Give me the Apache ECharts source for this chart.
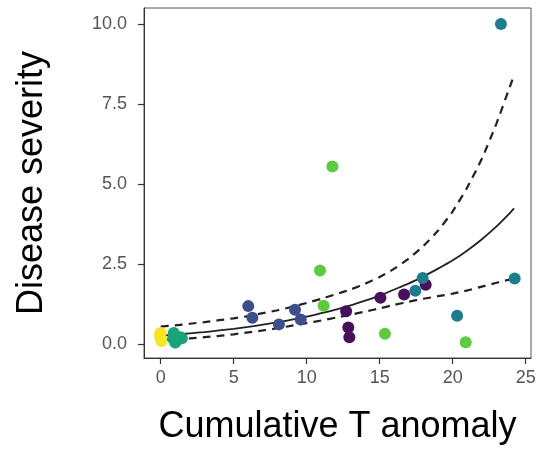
<!DOCTYPE html>
<html>
<head>
<meta charset="utf-8">
<script src="https://cdn.jsdelivr.net/npm/echarts@6/dist/echarts.min.js"></script>
<style>html,body{margin:0;padding:0;background:#fff;}#c{width:539px;height:450px;}</style>
</head>
<body>
<div id="c"></div>
<script>
// Data
const xTicks = [0, 5, 10, 15, 20, 25];
const yTicks = [0, 2.5, 5, 7.5, 10];

const purplePts = [[18.15,1.86],[16.67,1.55],[15.05,1.45],[12.7,1.03],[12.85,0.52],[12.92,0.22]];
const bluePts = [[6.0,1.19],[6.28,0.83],[8.1,0.62],[9.2,1.08],[9.59,0.77]];
const tealPts = [[23.3,10.0],[24.24,2.05],[17.94,2.07],[17.44,1.67],[20.3,0.89]];
const seagreenPts = [[0.9,0.35],[1.0,0.05],[0.85,0.18],[1.35,0.22],[1.1,0.12],[1.45,0.19]];
const greenPts = [[11.76,5.55],[10.91,2.3],[11.16,1.2],[15.36,0.33],[20.89,0.06]];
const yellowPts = [[0,0.35],[0,0.2],[0.05,0.1],[-0.05,0.27]];

const fitX = [0,1,2,3,4,5,6,7,8,9,10,11,12,13,14,15,16,17,18,19,20,21,22,23,24,24.2];
const fitMid = [0.27,0.30,0.34,0.38,0.43,0.48,0.54,0.61,0.68,0.77,0.86,0.97,1.08,1.21,1.36,1.52,1.71,1.90,2.12,2.36,2.62,2.93,3.28,3.68,4.14,4.24];
const fitUpper = [0.55,0.59,0.64,0.69,0.75,0.81,0.88,0.97,1.06,1.17,1.29,1.42,1.56,1.71,1.89,2.10,2.36,2.68,3.07,3.55,4.15,4.90,5.80,6.90,8.15,8.40];
const fitLower = [0.12,0.15,0.18,0.22,0.26,0.31,0.37,0.43,0.50,0.58,0.66,0.74,0.83,0.92,1.02,1.12,1.23,1.33,1.42,1.50,1.58,1.68,1.80,1.92,2.03,2.05];

const groups = [
  {name:'purple', data: purplePts, color:'#46105a'},
  {name:'blue', data: bluePts, color:'#3d4d8e'},
  {name:'teal', data: tealPts, color:'#1b7e8e'},
  {name:'seagreen', data: seagreenPts, color:'#18a47b'},
  {name:'green', data: greenPts, color:'#5ccc3c'},
  {name:'yellow', data: yellowPts, color:'#f6e620'}
];

const zip = (xs, ys) => xs.map((x,i)=>[x, ys[i]]);
const chart = echarts.init(document.getElementById('c'), null, {renderer:'canvas'});

const lineSeries = [
  {data: zip(fitX, fitMid), type:'solid', width:1.8},
  {data: zip(fitX, fitUpper), type:[8,6], width:2.2},
  {data: zip(fitX, fitLower), type:[8,6], width:2.2}
].map(l => ({
  type:'line', data:l.data, smooth:0.2, showSymbol:false, silent:true, z:2,
  lineStyle:{color:'#222', width:l.width, type:l.type}
}));

const scatterSeries = groups.map(g => ({
  type:'scatter', name:g.name, data:g.data, symbolSize:12, z:3,
  itemStyle:{color:g.color, opacity:1}
}));

chart.setOption({
  animation:false,
  backgroundColor:'#fff',
  grid:{left:144, right:8, top:8, bottom:89, show:true, borderColor:'#555', borderWidth:1, containLabel:false},
  xAxis:{
    type:'value', min:-1.14, max:25.36,
    name:'Cumulative T anomaly', nameLocation:'middle', nameGap:51,
    nameTextStyle:{fontFamily:'Liberation Sans, Arial', fontSize:36, color:'#000'},
    axisLine:{show:true, onZero:false, lineStyle:{color:'#333', width:1}},
    axisTick:{show:true, length:6, customValues:xTicks, lineStyle:{color:'#333', width:1.2}},
    axisLabel:{customValues:xTicks, margin:11, fontFamily:'Liberation Sans, Arial', fontSize:18, color:'#555'},
    splitLine:{show:false}
  },
  yAxis:{
    type:'value', min:-0.43, max:10.5,
    name:'Disease severity', nameLocation:'middle', nameGap:94,
    nameTextStyle:{fontFamily:'Liberation Sans, Arial', fontSize:36, color:'#000'},
    axisLine:{show:true, onZero:false, lineStyle:{color:'#333', width:1}},
    axisTick:{show:true, length:6, customValues:yTicks, lineStyle:{color:'#333', width:1.2}},
    axisLabel:{customValues:yTicks, margin:17, fontFamily:'Liberation Sans, Arial', fontSize:18, color:'#555',
      formatter: v => v.toFixed(1)},
    splitLine:{show:false}
  },
  series: lineSeries.concat(scatterSeries)
});
</script>
</body>
</html>
